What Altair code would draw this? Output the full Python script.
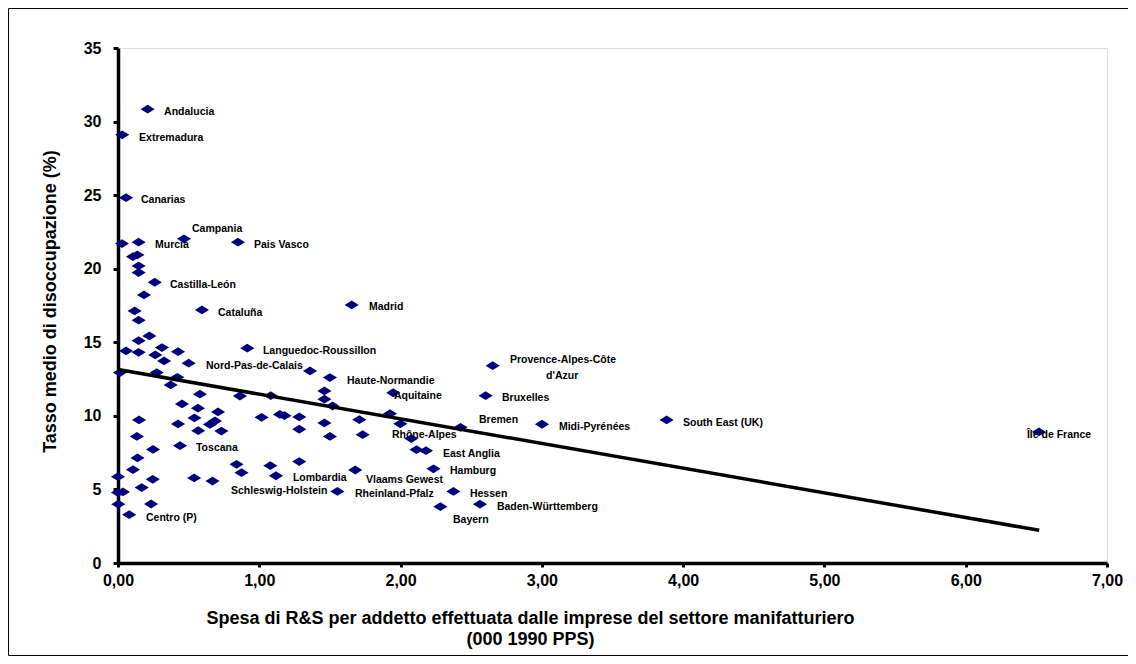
import altair as alt
import pandas as pd

# R&S spending per employee (000 1990 PPS) and average unemployment rate (%)
rs = [0.21, 0.03, 0.057, 0.028, 0.146, 0.467, 0.849, 0.106, 0.137, 0.146,
      0.146, 0.26, 0.184, 0.594, 0.118, 0.146, 1.654, 0.146, 0.222, 0.057,
      0.146, 0.311, 0.264, 0.425, 0.326, 0.50, 0.915, 0.014, 0.274, 0.42,
      0.373, 0.58, 0.863, 0.453, 0.566, 0.708, 0.541, 0.149, 0.425, 0.568,
      0.651, 0.686, 0.732, 1.016, 1.146, 1.178, 1.283, 1.283, 0.134, 0.248,
      0.439, 0.138, 0.106, 0.0, 0.246, 0.539, 0.669, 0.839, 0.874, 1.078,
      1.118, 0.168, 0.0, 0.035, 0.002, 0.234, 0.079, 1.283, 1.359, 1.50,
      1.081, 1.461, 1.461, 1.519, 1.948, 1.925, 1.998, 2.424, 1.461, 1.50,
      1.708, 1.732, 2.076, 2.113, 2.18, 2.233, 1.679, 1.553, 2.374, 2.282,
      2.562, 2.652, 2.602, 3.001, 3.883, 6.518]
unemp = [30.84, 29.10, 24.83, 21.71, 21.80, 22.03, 21.80, 20.82, 20.94, 20.19,
         19.74, 19.08, 18.22, 17.20, 17.13, 16.50, 17.54, 15.11, 15.43, 14.41,
         14.32, 14.64, 14.14, 14.36, 13.73, 13.58, 14.60, 12.94, 12.94, 12.62,
         12.10, 11.47, 11.35, 10.81, 10.52, 10.27, 9.86, 9.72, 9.45, 8.99,
         9.42, 9.65, 8.97, 9.90, 10.10, 10.01, 9.93, 9.09, 8.60, 7.72,
         7.97, 7.14, 6.34, 5.87, 5.69, 5.78, 5.57, 6.71, 6.14, 6.61,
         5.93, 5.13, 4.79, 4.83, 4.00, 4.01, 3.28, 6.89, 13.05, 12.60,
         11.37, 11.69, 11.13, 10.67, 11.57, 10.15, 9.46, 9.22, 9.52, 8.60,
         9.74, 8.72, 8.46, 7.70, 7.63, 6.40, 6.32, 4.86, 4.86, 3.83,
         4.00, 13.41, 11.37, 9.43, 9.72, 8.91]

# Region labels and where they sit (data units)
label_text = ["Andalucia", "Extremadura", "Canarias", "Campania", "Murcia", "Pais Vasco",
              "Castilla-León", "Cataluña", "Madrid", "Languedoc-Roussillon",
              "Nord-Pas-de-Calais", "Haute-Normandie", "Provence-Alpes-Côte", "d'Azur",
              "Aquitaine", "Bruxelles", "Bremen", "Midi-Pyrénées", "South East (UK)",
              "Île de France", "Rhône-Alpes", "Toscana", "East Anglia", "Hamburg",
              "Lombardia", "Vlaams Gewest", "Schleswig-Holstein", "Rheinland-Pfalz",
              "Hessen", "Baden-Württemberg", "Bayern", "Centro (P)"]
label_x = [0.326, 0.149, 0.163, 0.524, 0.262, 0.962,
           0.368, 0.708, 1.776, 1.026,
           0.623, 1.621, 2.774, 3.030,
           1.953, 2.718, 2.555, 3.121, 3.999,
           6.433, 1.939, 0.552, 2.30, 2.35,
           1.238, 1.755, 0.80, 1.677,
           2.491, 2.682, 2.371, 0.198]
label_y = [30.66, 28.89, 24.68, 22.71, 21.62, 21.62,
           18.90, 17.0, 17.40, 14.41,
           13.39, 12.37, 13.80, 12.71,
           11.35, 11.22, 9.72, 9.25, 9.52,
           8.70, 8.70, 7.82, 7.41, 6.25,
           5.78, 5.64, 4.89, 4.69,
           4.69, 3.81, 2.92, 3.06]

# Trend line end points
trend_x = [0.0, 6.52]
trend_y = [13.15, 2.22]

x_ticks = [0, 1, 2, 3, 4, 5, 6, 7]
y_ticks = [0, 5, 10, 15, 20, 25, 30, 35]

pts = pd.DataFrame({"rs": rs, "u": unemp})
labs = pd.DataFrame({"t": label_text, "rs": label_x, "u": label_y})
trend = pd.DataFrame({"rs": trend_x, "u": trend_y})

FONT = "Liberation Sans"
W, H = 989, 515

xscale = alt.Scale(domain=[0, 7], nice=False, zero=True)
yscale = alt.Scale(domain=[0, 35], nice=False)

xaxis = alt.Axis(values=x_ticks,
                 labelExpr="replace(format(datum.value, '.2f'), '.', ',')",
                 title=["Spesa di R&S per addetto effettuata dalle imprese del settore manifatturiero",
                        "(000 1990 PPS)"],
                 titleX=412, titleY=46, titleAlign="center", titleBaseline="top",
                 titleLineHeight=21, titleFontSize=18, titleFont=FONT, titleFontWeight="bold",
                 labelFontSize=16, labelFont=FONT, labelFontWeight="bold", labelPadding=5,
                 tickSize=4, tickWidth=3, tickColor="black",
                 domainWidth=3.5, domainColor="black", grid=False, labelColor="black",
                 titleColor="black", labelFlush=False)
yaxis = alt.Axis(values=y_ticks, title="Tasso medio di disoccupazione (%)",
                 titleX=-68, titleY=253, titleAlign="center", titleBaseline="middle",
                 titleAngle=270,
                 titleFontSize=18, titleFont=FONT, titleFontWeight="bold",
                 labelFontSize=16, labelFont=FONT, labelFontWeight="bold", labelPadding=12,
                 tickSize=5, tickWidth=3, tickColor="black",
                 domainWidth=3.5, domainColor="black", grid=False, labelColor="black",
                 titleColor="black")

frame = alt.Chart(pd.DataFrame({"a": [0]})).mark_rect(
    fill=None, stroke="black", strokeWidth=1, clip=False
).encode(x=alt.value(-109.5), x2=alt.value(1010.5), y=alt.value(-39.5), y2=alt.value(607.5))

points = alt.Chart(pts).mark_point(
    shape="M-1,0L0,-0.62L1,0L0,0.62Z", filled=True, color="#00007F", size=200, opacity=1
).encode(
    x=alt.X("rs:Q", scale=xscale, axis=xaxis),
    y=alt.Y("u:Q", scale=yscale, axis=yaxis),
)

line = alt.Chart(trend).mark_line(color="black", strokeWidth=3.5).encode(
    x=alt.X("rs:Q", scale=xscale), y=alt.Y("u:Q", scale=yscale)
)

labels = alt.Chart(labs).mark_text(
    align="left", baseline="middle", font=FONT, fontSize=10.5, fontWeight="bold", color="black"
).encode(
    x=alt.X("rs:Q", scale=xscale), y=alt.Y("u:Q", scale=yscale), text="t:N"
)

chart = alt.layer(frame, points, line, labels).properties(
    width=W, height=H,
    autosize=alt.AutoSizeParams(type="none"),
    padding={"left": 110, "top": 40, "right": 21, "bottom": 93},
).configure_view(stroke=None).configure(background="white")

chart.save("out.html", embed_options={"renderer": "svg", "actions": False})
